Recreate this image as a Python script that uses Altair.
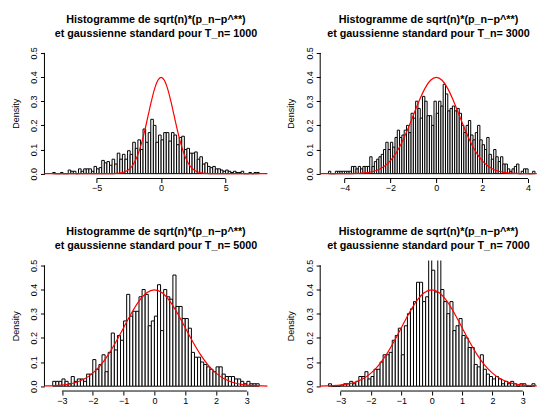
import altair as alt
import pandas as pd

FONT = "Liberation Sans"

# ---------------- data ----------------
sample_sizes = [1000, 3000, 5000, 7000]
bin_start = [-8.4, -4.7, -3.3, -3.4]
bin_width = [0.2, 0.1, 0.1, 0.1]

density_1000 = [
    0.005, 0, 0, 0.005, 0, 0, 0.015, 0.01, 0.01, 0,
    0.02, 0.01, 0.02, 0.02, 0.02, 0.01, 0.03, 0.02, 0.025, 0.055,
    0.045, 0.05, 0.035, 0.06, 0.04, 0.085, 0.06, 0.08, 0.06, 0.095,
    0.08, 0.13, 0.105, 0.14, 0.10, 0.185, 0.13, 0.17, 0.225, 0.20,
    0.13, 0.16, 0.14, 0.17, 0.17, 0.135, 0.17, 0.16, 0.12, 0.15,
    0.155, 0.10, 0.105, 0.085, 0.085, 0.09, 0.06, 0.07, 0.04, 0.045,
    0.03, 0.025, 0.03, 0.02, 0.02, 0.015, 0.01, 0.015, 0.01, 0.005,
    0.01, 0.005, 0.005, 0.01, 0, 0, 0.005, 0, 0.005, 0.005,
]
density_3000 = [
    0.01, 0, 0, 0.01, 0.01, 0.01, 0.01, 0.01, 0.01, 0.01,
    0.03, 0.03, 0.02, 0.03, 0.02, 0.03, 0.03, 0.03, 0.07, 0.03,
    0.05, 0.06, 0.07, 0.08, 0.10, 0.13, 0.10, 0.13, 0.11, 0.15,
    0.18, 0.15, 0.16, 0.18, 0.20, 0.17, 0.25, 0.23, 0.30, 0.27,
    0.23, 0.32, 0.30, 0.24, 0.24, 0.20, 0.30, 0.25, 0.30, 0.28,
    0.37, 0.33, 0.26, 0.27, 0.28, 0.26, 0.27, 0.25, 0.20, 0.17,
    0.20, 0.22, 0.16, 0.14, 0.17, 0.20, 0.14, 0.12, 0.10, 0.15,
    0.08, 0.06, 0.10, 0.07, 0.05, 0.07, 0.04, 0.04, 0.02, 0.01,
    0.02, 0.03, 0.04, 0, 0.01, 0.02, 0.02, 0, 0, 0.01,
]
density_5000 = [
    0.02, 0.02, 0.02, 0.03, 0.02, 0.01, 0.04, 0.02, 0.03, 0.03,
    0.02, 0.05, 0.05, 0.11, 0.07, 0.09, 0.13, 0.06, 0.14, 0.22,
    0.15, 0.21, 0.19, 0.27, 0.38, 0.29, 0.31, 0.31, 0.37, 0.40,
    0.38, 0.25, 0.27, 0.29, 0.42, 0.23, 0.40, 0.37, 0.36, 0.46,
    0.33, 0.33, 0.28, 0.28, 0.24, 0.14, 0.12, 0.12, 0.10, 0.09,
    0.08, 0.07, 0.06, 0.08, 0.08, 0.05, 0.04, 0.04, 0.04, 0.03,
    0.03, 0.02, 0.01, 0.02, 0.01, 0.01, 0.01,
]
density_7000 = [
    0.01, 0, 0, 0, 0.005, 0.01, 0.01, 0.02, 0.01, 0.02,
    0.04, 0.04, 0.06, 0.03, 0.04, 0.07, 0.07, 0.10, 0.13, 0.13,
    0.14, 0.19, 0.21, 0.24, 0.13, 0.25, 0.30, 0.32, 0.35, 0.43,
    0.43, 0.35, 0.37, 0.53, 0.48, 0.39, 0.53, 0.40, 0.35, 0.30,
    0.35, 0.23, 0.25, 0.28, 0.21, 0.20, 0.16, 0.16, 0.09, 0.08,
    0.13, 0.07, 0.05, 0.04, 0.03, 0.04, 0.03, 0.01, 0.02, 0.01,
    0.02, 0.01, 0, 0.01, 0.01, 0, 0, 0.01,
]
densities = [density_1000, density_3000, density_5000, density_7000]

x_tick_values = [
    [-5, 0, 5],
    [-4, -2, 0, 2, 4],
    [-3, -2, -1, 0, 1, 2, 3],
    [-3, -2, -1, 0, 1, 2, 3],
]
y_tick_values = [0.0, 0.1, 0.2, 0.3, 0.4, 0.5]
x_domains = [[-9.04, 8.24], [-5.06, 4.38], [-3.568, 3.668], [-3.672, 3.46]]
y_domain = [-0.02, 0.52]

# standard gaussian curve, read at regular abscissae
gauss_x = [-9.1, -4.5, -4.0, -3.75, -3.5, -3.25, -3.0, -2.75, -2.5, -2.25,
           -2.0, -1.75, -1.5, -1.25, -1.0, -0.75, -0.5, -0.25, 0.0,
           0.25, 0.5, 0.75, 1.0, 1.25, 1.5, 1.75, 2.0, 2.25, 2.5,
           2.75, 3.0, 3.25, 3.5, 3.75, 4.0, 4.5, 9.1]
gauss_y = [0.0, 0.0, 0.0001, 0.0004, 0.0009, 0.0020, 0.0044, 0.0091, 0.0175, 0.0317,
           0.0540, 0.0863, 0.1295, 0.1826, 0.2420, 0.3011, 0.3521, 0.3867, 0.3989,
           0.3867, 0.3521, 0.3011, 0.2420, 0.1826, 0.1295, 0.0863, 0.0540, 0.0317, 0.0175,
           0.0091, 0.0044, 0.0020, 0.0009, 0.0004, 0.0001, 0.0, 0.0]

title_line1 = "Histogramme de sqrt(n)*(p_n\u2212p^**)"
title_line2 = "et gaussienne standard pour T_n= {}"

# ---------------- layout ----------------
PANEL_H = 130.6
PANEL_W = [223.2, 216.8, 223.2, 216.8]


def panel(k):
    dens = densities[k]
    bars = pd.DataFrame({
        "x0": [bin_start[k] + i * bin_width[k] for i in range(len(dens))],
        "x1": [bin_start[k] + (i + 1) * bin_width[k] for i in range(len(dens))],
        "d": dens,
        "base": [0.0] * len(dens),
    })
    curve = pd.DataFrame({"cx": gauss_x, "cy": gauss_y})
    xr = pd.DataFrame({"a": [x_tick_values[k][0]], "b": [x_tick_values[k][-1]]})
    yr = pd.DataFrame({"a": [y_tick_values[0]], "b": [y_tick_values[-1]]})

    xscale = alt.Scale(domain=x_domains[k], nice=False, zero=False)
    yscale = alt.Scale(domain=y_domain, nice=False, zero=False)
    xaxis = alt.Axis(values=x_tick_values[k], tickSize=4, labelPadding=1,
                     title=None, labelFlush=False, labelOverlap=False)
    yaxis = alt.Axis(values=y_tick_values, format=".1f", tickSize=4, labelPadding=2,
                     labelAngle=270, labelAlign="center", labelBaseline="bottom",
                     title="Density", titleX=-29.3, titleY=PANEL_H / 2,
                     titleAngle=270, titleAlign="center", titleBaseline="middle")

    rects = alt.Chart(bars).mark_rect(
        fill="white", stroke="black", strokeWidth=1.0, clip=True
    ).encode(
        x=alt.X("x0:Q", scale=xscale, axis=xaxis),
        x2="x1:Q",
        y=alt.Y("d:Q", scale=yscale, axis=yaxis),
        y2="base:Q",
    )
    line = alt.Chart(curve).mark_line(
        color="#ff0000", strokeWidth=1.2, clip=True, interpolate="monotone"
    ).encode(
        x=alt.X("cx:Q", scale=xscale, axis=xaxis),
        y=alt.Y("cy:Q", scale=yscale, axis=yaxis),
    )
    xrule = alt.Chart(xr).mark_rule(color="black", strokeWidth=1).encode(
        x=alt.X("a:Q", scale=xscale, axis=xaxis),
        x2="b:Q",
        y=alt.value(PANEL_H),
    )
    yrule = alt.Chart(yr).mark_rule(color="black", strokeWidth=1).encode(
        y=alt.Y("a:Q", scale=yscale, axis=yaxis),
        y2="b:Q",
        x=alt.value(0),
    )
    return alt.layer(rects, line, xrule, yrule).properties(
        width=PANEL_W[k],
        height=PANEL_H,
        title=alt.TitleParams(
            text=[title_line1, title_line2.format(sample_sizes[k])],
            baseline="bottom", offset=-3, lineHeight=14,
        ),
    )


chart = alt.concat(
    panel(0), panel(1), panel(2), panel(3),
    columns=2,
    spacing={"row": 81.7, "column": 52},
    bounds="flush",
).properties(
    padding={"left": 10.5, "top": 12.9, "right": 0, "bottom": 0},
    background="white",
).configure_view(
    stroke=None
).configure_axis(
    labelFont=FONT, labelFontSize=9, labelColor="black",
    tickColor="black", tickWidth=1, domain=False, grid=False,
    titleFont=FONT, titleFontSize=9, titleFontWeight="normal", titleColor="black",
).configure_title(
    font=FONT, fontSize=10.8, fontWeight="bold", color="black", anchor="middle",
)

chart.save("out.html", embed_options={"renderer": "svg", "actions": False})
